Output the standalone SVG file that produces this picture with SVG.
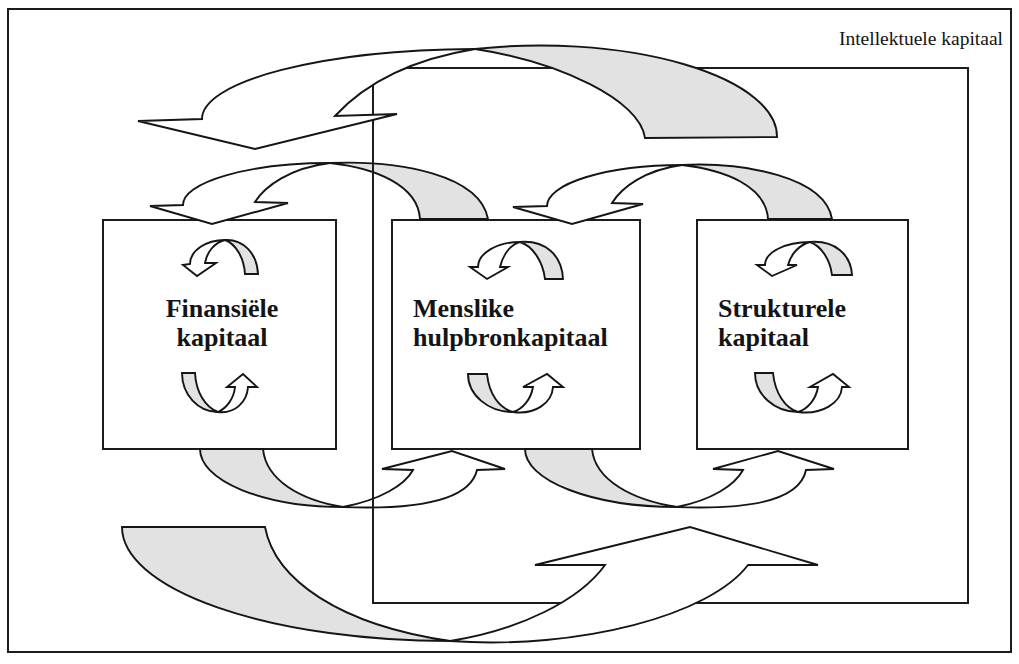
<svg xmlns="http://www.w3.org/2000/svg" width="1019" height="664" viewBox="0 0 1019 664">
  <style>
    .frame { fill: none; stroke: #1c1c1c; stroke-width: 2; }
    .box { fill: #fff; stroke: #1c1c1c; stroke-width: 2; }
    .face { fill: #fff; stroke: #151515; stroke-width: 1.9; stroke-linejoin: miter; }
    .back { fill: #e2e2e2; stroke: #151515; stroke-width: 1.9; stroke-linejoin: miter; }
    .label { font-family: "Liberation Serif", "Times New Roman", serif; font-weight: bold; font-size: 26px; fill: #141414; }
    .title { font-family: "Liberation Serif", "Times New Roman", serif; font-size: 19.5px; fill: #141414; }
  </style>
  <rect width="1019" height="664" fill="#fff"/>

  <!-- outer frame -->
  <rect id="frame" class="frame" x="8" y="9" width="1003" height="643"/>
  <text class="title" x="1003" y="45" text-anchor="end">Intellektuele kapitaal</text>

  <!-- the three capital boxes -->
  <g id="node-finansiele">
    <rect class="box" x="103" y="220" width="233" height="229"/>
    <text class="label" x="222" y="317" text-anchor="middle">Finansiële</text>
    <text class="label" x="222" y="346" text-anchor="middle">kapitaal</text>
    <path class="back" d="M225,240 C242,239 257,252 258,274 L245,274 C244,258 236,244 225,240 Z"/>
    <path class="face" d="M205,263 C207,252 214,243 225,240 A35 24 0 0 0 190,264 L183,265 L197,276 L216,263 Z"/>
    <path class="back" d="M182,373 L195,373 C196,392 205,407 218,412 A36 39 0 0 1 182,373 Z"/>
    <path class="face" d="M218,412 C235,414 247,402 248,387 L257,387 L243,374 L227,387 L235,387 C234,398 227,408 218,412 Z"/>
  </g>

  <g id="node-menslike">
    <rect class="box" x="392" y="220" width="248" height="229"/>
    <text class="label" x="413" y="317">Menslike</text>
    <text class="label" x="413" y="346">hulpbronkapitaal</text>
    <path class="back" d="M520,242 C545,240 562,255 563,279 L545,279 C543,262 533,246 520,242 Z"/>
    <path class="face" d="M500,267 C503,255 510,245 520,242 A42 25 0 0 0 478,267 L470,267 L487,279 L508,267 Z"/>
    <path class="back" d="M468,374 L487,374 C489,394 499,408 513,412 A45 38 0 0 1 468,374 Z"/>
    <path class="face" d="M513,412 C535,415 552,403 553,387 L563,387 L547,374 L523,387 L533,387 C531,399 523,409 513,412 Z"/>
  </g>

  <g id="node-strukturele">
    <rect class="box" x="697" y="220" width="211" height="229"/>
    <text class="label" x="718" y="317">Strukturele</text>
    <text class="label" x="718" y="346">kapitaal</text>
    <path class="back" d="M810,242 C835,240 851,255 852,275 L832,275 C830,259 821,246 810,242 Z"/>
    <path class="face" d="M788,265 C791,254 799,245 810,242 A45 23 0 0 0 765,265 L757,265 L772,276 L797,265 Z"/>
    <path class="back" d="M755,373 L773,373 C775,393 785,408 798,412 A43 39 0 0 1 755,373 Z"/>
    <path class="face" d="M798,412 C822,415 841,403 842,387 L849,387 L833,374 L810,387 L818,387 C816,399 808,409 798,412 Z"/>
  </g>

  <!-- connectors between neighbouring boxes -->
  <g id="connectors">
    <g id="flow-menslike-finansiele">
      <path class="back" d="M330,163 C400,160 480,175 488,219 L420,219 C418,185 375,168 330,163 Z"/>
      <path class="face" d="M255,202 C265,186 290,168 330,163 A147 42 0 0 0 183,205 L150,206 L212,224 L288,203 Z"/>
    </g>
    <g id="flow-strukturele-menslike">
      <path class="back" d="M682,165 C745,162 825,177 832,219 L768,219 C766,186 725,170 682,165 Z"/>
      <path class="face" d="M612,203 C622,187 645,170 682,165 A135 41 0 0 0 547,206 L513,207 L572,224 L643,204 Z"/>
    </g>
    <g id="flow-finansiele-menslike">
      <path class="back" d="M200,449 L263,449 C266,480 300,500 343,507 A143 58 0 0 1 200,449 Z"/>
      <path class="face" d="M343,507 C420,510 470,500 477,470 L505,469 L452,451 L382,469 L413,470 C405,485 380,500 343,507 Z"/>
    </g>
    <g id="flow-menslike-strukturele">
      <path class="back" d="M525,449 L592,449 C595,480 632,500 677,507 A152 58 0 0 1 525,449 Z"/>
      <path class="face" d="M677,507 C752,510 800,500 806,470 L834,469 L778,451 L713,469 L743,470 C735,485 712,500 677,507 Z"/>
    </g>

    <!-- intellectual capital boundary -->
    <rect id="intellektuele" class="frame" x="373" y="68" width="595" height="535"/>

    <!-- large loops around the whole group -->
    <g id="flow-top-loop">
      <path class="back" d="M475,49 A237 91 0 0 1 777,137 L645,138 C640,100 560,62 475,49 Z"/>
      <path class="face" d="M335,116 C370,78 420,58 475,49 A278 70 0 0 0 202,119 L138,121 L255,149 L397,114 Z"/>
    </g>
    <g id="flow-bottom-loop">
      <path class="back" d="M122,527 L265,527 C275,580 340,625 450,641 A328 114 0 0 1 122,527 Z"/>
      <path class="face" d="M450,641 C580,650 710,615 748,565 L818,565 L690,527 L535,565 L605,565 C580,600 520,630 450,641 Z"/>
    </g>
  </g>
</svg>
